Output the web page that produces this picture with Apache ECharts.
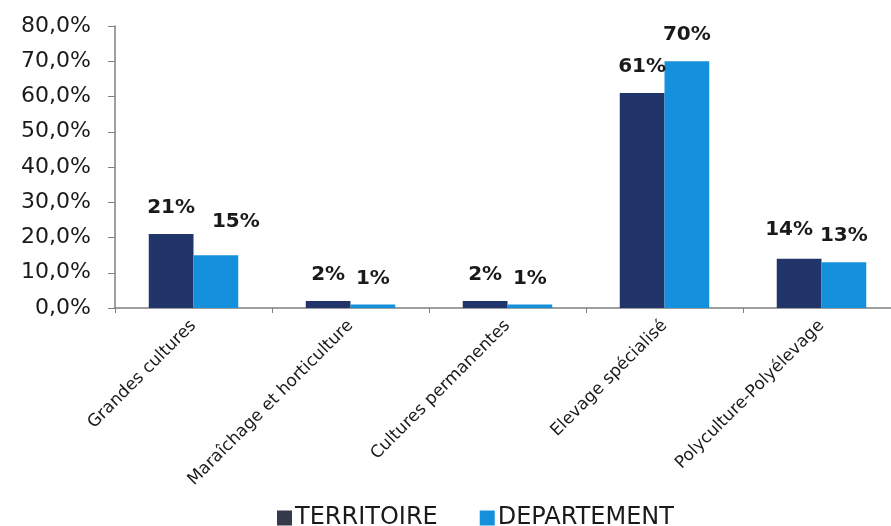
<!DOCTYPE html>
<html>
<head>
<meta charset="utf-8">
<script src="https://cdn.jsdelivr.net/npm/echarts@6/dist/echarts.min.js"></script>
<style>
  html, body { margin: 0; padding: 0; background: #ffffff; }
  #chart { width: 891px; height: 526px; }
</style>
</head>
<body>
<div id="chart"></div>
<script>
// Orientation technico-économique des exploitations (%)
const categories = [
  'Grandes cultures',
  'Maraîchage et horticulture',
  'Cultures permanentes',
  'Elevage spécialisé',
  'Polyculture-Polyélevage'
];
const territoire = [21, 2, 2, 61, 14];
const departement = [15, 1, 1, 70, 13];
const seriesNames = ['TERRITOIRE', 'DEPARTEMENT'];

// small nudges for a couple of value labels
const territoireLabelOffsets = [[0, 0], [0, 0], [0, 0], [0, 0], [-10, -3]];
const departementLabelOffsets = [[20, -7], [0, 0], [0, 0], [0, 0], [0, 0]];

const labelFont = {
  fontFamily: 'DejaVu Sans',
  fontWeight: 'bold',
  fontSize: 20,
  color: '#1a1a1a'
};

function withLabels(values, offsets) {
  return values.map((v, i) => ({
    value: v,
    label: { offset: offsets[i] }
  }));
}

const chart = echarts.init(document.getElementById('chart'));
chart.setOption({
  animation: false,
  backgroundColor: '#ffffff',
  // the last category runs a little past the right edge of the canvas
  grid: {
    left: 115, width: 785, top: 26, height: 282,
    containLabel: false,
    outerBoundsMode: 'none'
  },
  legend: {
    data: [
      { name: seriesNames[0], itemStyle: { color: '#343a4a' } },
      { name: seriesNames[1] }
    ],
    top: 501,
    left: 272,
    itemWidth: 15,
    itemHeight: 15,
    itemGap: 42,
    icon: 'rect',
    textStyle: { fontFamily: 'DejaVu Sans', fontSize: 24, color: '#1a1a1a', padding: [0, 0, 0, -2] }
  },
  xAxis: {
    type: 'category',
    data: categories,
    axisLine: { lineStyle: { color: '#7f7f7f', width: 1.5 } },
    axisTick: { show: true, length: 5, lineStyle: { color: '#7f7f7f' } },
    axisLabel: {
      rotate: 45,
      margin: 15,
      fontFamily: 'DejaVu Sans',
      fontSize: 17,
      color: '#1a1a1a',
      interval: 0
    }
  },
  yAxis: {
    type: 'value',
    min: 0,
    max: 80,
    interval: 10,
    splitLine: { show: false },
    axisLine: { show: true, lineStyle: { color: '#7f7f7f', width: 1.5 } },
    axisTick: { show: true, length: 7, lineStyle: { color: '#7f7f7f' } },
    axisLabel: {
      margin: 24,
      fontFamily: 'DejaVu Sans',
      fontSize: 22,
      color: '#1a1a1a',
      formatter: v => v.toFixed(1).replace('.', ',') + '%'
    }
  },
  series: [
    {
      name: seriesNames[0],
      type: 'bar',
      data: withLabels(territoire, territoireLabelOffsets),
      barGap: '0%',
      barCategoryGap: '43%',
      itemStyle: { color: '#22356b' },
      label: Object.assign({ show: true, position: 'top', distance: 16, formatter: p => p.value + '%' }, labelFont)
    },
    {
      name: seriesNames[1],
      type: 'bar',
      data: withLabels(departement, departementLabelOffsets),
      barGap: '0%',
      barCategoryGap: '43%',
      itemStyle: { color: '#1490dc' },
      label: Object.assign({ show: true, position: 'top', distance: 16, formatter: p => p.value + '%' }, labelFont)
    }
  ]
});
</script>
</body>
</html>
